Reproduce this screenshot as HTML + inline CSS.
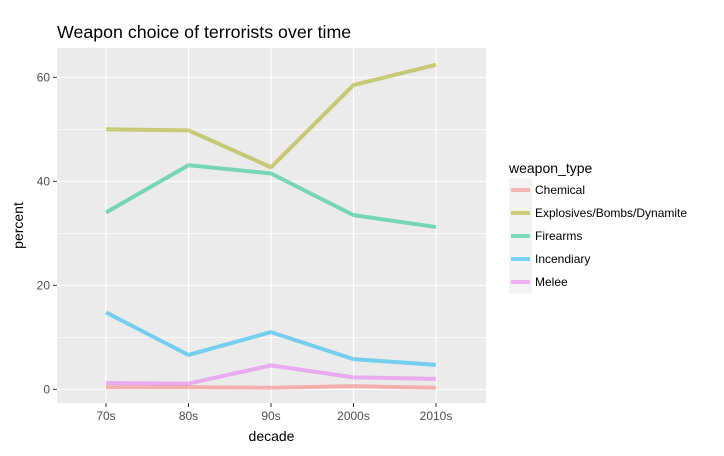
<!DOCTYPE html>
<html><head><meta charset="utf-8"><style>
body{margin:0;background:#fff;}
svg{display:block;font-family:"Liberation Sans",Arial,sans-serif;}
</style></head><body>
<svg id="chart" width="724" height="456">
<text x="57" y="38" font-size="17.8" fill="#000">Weapon choice of terrorists over time</text>
<rect x="57" y="48" width="429" height="355" fill="#ebebeb"/>
<g id="grid"></g><g id="series"></g><g id="axes"></g>
<text x="271.5" y="441" font-size="14" text-anchor="middle" fill="#000">decade</text>
<text transform="translate(23,225.5) rotate(-90)" font-size="14" text-anchor="middle" fill="#000">percent</text>
<g id="legend">
<text x="509" y="173" font-size="14" fill="#000">weapon_type</text>
</g>
</svg>
<script>
const categories=["70s","80s","90s","2000s","2010s"];
const seriesNames=["Chemical","Explosives/Bombs/Dynamite","Firearms","Incendiary","Melee"];
const chemical=[0.4,0.4,0.3,0.6,0.3];
const explosives=[50.0,49.8,42.7,58.5,62.4];
const firearms=[34.0,43.1,41.5,33.5,31.2];
const incendiary=[14.8,6.6,11.0,5.8,4.7];
const melee=[1.2,1.1,4.6,2.3,2.0];
const yTicks=[0,20,40,60];
const colors=["#f8766d","#a3a500","#00bf7d","#00b0f6","#e76bf3"];
const ns="http://www.w3.org/2000/svg";
const xs=i=>106+i*82.5;
const ys=v=>389.3-v*5.2;
function mk(t,a,p){const e=document.createElementNS(ns,t);for(const k in a)e.setAttribute(k,a[k]);p.appendChild(e);return e;}
const grid=document.getElementById('grid'),axes=document.getElementById('axes'),ser=document.getElementById('series'),leg=document.getElementById('legend');
for(let v=10;v<=60;v+=20){const l=mk('line',{x1:57,x2:486,y1:ys(v),y2:ys(v),stroke:'#fff','stroke-width':0.6},grid);

}
yTicks.forEach(v=>{const l=mk('line',{x1:57,x2:486,y1:ys(v),y2:ys(v),stroke:'#fff','stroke-width':1.2},grid);


const tk=mk('line',{x1:53,x2:57,y1:ys(v),y2:ys(v),stroke:'#333'},axes);


const t=mk('text',{x:50,y:ys(v)+4,'font-size':12,'text-anchor':'end',fill:'#4d4d4d'},axes);t.textContent=v;

});
categories.forEach((c,i)=>{const l=mk('line',{x1:xs(i),x2:xs(i),y1:48,y2:403,stroke:'#fff','stroke-width':1.2},grid);


const tk=mk('line',{x1:xs(i),x2:xs(i),y1:403,y2:407,stroke:'#333'},axes);


const t=mk('text',{x:xs(i),y:420,'font-size':12,'text-anchor':'middle',fill:'#4d4d4d'},axes);t.textContent=c;

});
[chemical,explosives,firearms,incendiary,melee].forEach((d,k)=>{
const p=mk('polyline',{points:d.map((v,i)=>xs(i)+','+ys(v)).join(' '),fill:'none',stroke:colors[k],'stroke-width':4,'stroke-opacity':0.5,'stroke-linejoin':'round'},ser);


const cy=190+k*23;
const bg=mk('rect',{x:509,y:cy-11.5,width:23,height:23,fill:'#f2f2f2'},leg);


const ll=mk('line',{x1:511,x2:530,y1:cy,y2:cy,stroke:colors[k],'stroke-width':4,'stroke-opacity':0.5},leg);


const t=mk('text',{x:535,y:cy+4,'font-size':12,fill:'#000'},leg);t.textContent=seriesNames[k];

});
</script>
</body></html>
